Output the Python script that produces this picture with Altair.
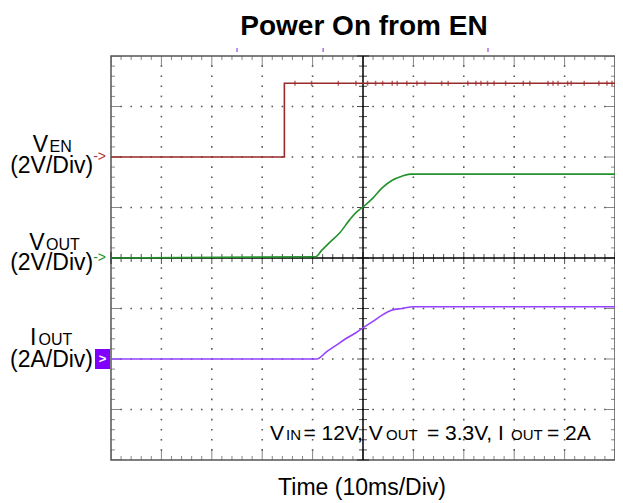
import altair as alt
import numpy as np
import pandas as pd

FONT = "Liberation Sans"

# ---------------- data read from the scope shot ----------------
# time in ms (10 ms / div), values in V or A
ven_t = [0.0, 34.4, 34.4, 100.0]
ven_v = [0.0, 0.0, 2.92, 2.92]

vout_t = [0.0, 40.6, 41.8, 43.4, 45.4, 47.3, 48.6, 49.9, 51.9, 53.8, 55.8, 57.7, 59.4, 100.0]
vout_v = [0.0, 0.05, 0.30, 0.62, 1.00, 1.50, 1.80, 2.00, 2.36, 2.78, 3.08, 3.24, 3.32, 3.32]

iout_t = [0.0, 40.8, 42.8, 44.7, 46.7, 48.6, 49.9, 51.9, 53.8, 55.8, 57.7, 60.0, 100.0]
iout_a = [0.0, 0.0, 0.29, 0.55, 0.82, 1.04, 1.22, 1.48, 1.74, 1.94, 2.00, 2.07, 2.07]

# small glitches visible on the EN high level (ms)
ven_glitch_t = [36.5, 39.8, 45.1, 48.6, 50.9, 52.5, 53.9, 55.8, 56.8, 58.7, 60.7,
                62.3, 65.6, 66.9, 70.8, 72.4, 73.4, 74.7, 76.0, 78.3, 81.8, 83.1,
                86.7, 87.7, 88.7, 90.6, 91.3, 93.9, 96.8, 98.4, 99.4]
# cursor markers above the graticule (ms)
cursor_t = [25.0, 42.1, 74.8]

channel_names = ["VEN", "VOUT", "IOUT"]
channel_ground_div = [6, 4, 2]
channel_units_per_div = [2.0, 2.0, 2.0]
channel_colors = ["#9b2a2a", "#23922b", "#9442ff"]

# ---------------- frames ----------------
def trace_frame(name, ts, vs, g, u):
    return pd.DataFrame({"ch": name, "i": list(range(len(ts))), "t": ts, "val": vs,
                         "div": [g + v / u for v in vs]})


ven_df = trace_frame(channel_names[0], ven_t, ven_v, channel_ground_div[0], channel_units_per_div[0])
vout_df = trace_frame(channel_names[1], vout_t, vout_v, channel_ground_div[1], channel_units_per_div[1])
iout_df = trace_frame(channel_names[2], iout_t, iout_a, channel_ground_div[2], channel_units_per_div[2])

ven_level = channel_ground_div[0] + ven_v[-1] / channel_units_per_div[0]
glitch_df = pd.DataFrame({"t": ven_glitch_t, "div": [ven_level] * len(ven_glitch_t)})
cursor_df = pd.DataFrame({"t": cursor_t})

# graticule
minor_x = [round(float(v), 2) for v in np.arange(0, 100.001, 2)]
minor_y = [round(float(v), 2) for v in np.arange(0, 8.0001, 0.2)]
major_x = list(range(0, 101, 10))
major_y = list(range(0, 9))

dots = []
for gx in major_x[1:-1]:
    if gx == 50:
        continue
    for gy in minor_y[1:-1]:
        dots.append({"gx": gx, "gy": gy})
for gy in major_y[1:-1]:
    if gy == 4:
        continue
    for gx in minor_x[1:-1]:
        dots.append({"gx": gx, "gy": gy})
dots_df = pd.DataFrame(dots)

edge_v = []  # ticks on top / bottom edges
for gx in minor_x:
    ln = 20 if gx % 10 == 0 else 8
    for gy in (0, 8):
        edge_v.append({"gx": gx, "gy": gy, "len": ln})
edge_v_df = pd.DataFrame(edge_v)

edge_h = []  # ticks on left / right edges
for gy in minor_y:
    ln = 20 if abs(gy - round(gy)) < 1e-6 else 8
    for gx in (0, 100):
        edge_h.append({"gx": gx, "gy": gy, "len": ln})
edge_h_df = pd.DataFrame(edge_h)

cross_v_df = pd.DataFrame({"gx": minor_x, "gy": [4] * len(minor_x),
                           "len": [12 if gx % 10 == 0 else 8 for gx in minor_x]})
cross_h_df = pd.DataFrame({"gx": [50] * len(minor_y), "gy": minor_y,
                           "len": [12 if abs(gy - round(gy)) < 1e-6 else 8 for gy in minor_y]})

xs = alt.Scale(domain=[0, 100], nice=False, zero=False)
ys = alt.Scale(domain=[0, 8], nice=False, zero=False)


def X(f):
    return alt.X(f, scale=xs, axis=None)


def Y(f):
    return alt.Y(f, scale=ys, axis=None)


GRID = "#555555"

dots_layer = alt.Chart(dots_df).mark_square(size=2.5, color="#5a5a5a", opacity=1).encode(
    x=X("gx:Q"), y=Y("gy:Q"))

edge_v_layer = alt.Chart(edge_v_df).mark_tick(orient="vertical", thickness=1, clip=True, color=GRID).encode(
    x=X("gx:Q"), y=Y("gy:Q"), size=alt.Size("len:Q", scale=None, legend=None))
edge_h_layer = alt.Chart(edge_h_df).mark_tick(orient="horizontal", thickness=1, clip=True, color=GRID).encode(
    x=X("gx:Q"), y=Y("gy:Q"), size=alt.Size("len:Q", scale=None, legend=None))

cross_rule_h = alt.Chart(pd.DataFrame({"gy": [4]})).mark_rule(color="black", strokeWidth=1.5).encode(
    y=Y("gy:Q"))
cross_rule_v = alt.Chart(pd.DataFrame({"gx": [50]})).mark_rule(color="black", strokeWidth=1.5).encode(
    x=X("gx:Q"))
cross_v_layer = alt.Chart(cross_v_df).mark_tick(orient="vertical", thickness=1, color="black").encode(
    x=X("gx:Q"), y=Y("gy:Q"), size=alt.Size("len:Q", scale=None, legend=None))
cross_h_layer = alt.Chart(cross_h_df).mark_tick(orient="horizontal", thickness=1, color="black").encode(
    x=X("gx:Q"), y=Y("gy:Q"), size=alt.Size("len:Q", scale=None, legend=None))


def trace_layer(df, color, interp):
    return alt.Chart(df).mark_line(strokeWidth=1.6, clip=True, color=color, interpolate=interp).encode(
        x=X("t:Q"), y=Y("div:Q"), order=alt.Order("i:Q"))


ven_layer = trace_layer(ven_df, channel_colors[0], "linear")
vout_layer = trace_layer(vout_df, channel_colors[1], "monotone")
iout_layer = trace_layer(iout_df, channel_colors[2], "monotone")

glitch_layer = alt.Chart(glitch_df).mark_tick(orient="vertical", size=5, thickness=1.5,
                                              color=channel_colors[0]).encode(
    x=X("t:Q"), y=Y("div:Q"))

cursor_layer = alt.Chart(cursor_df).mark_tick(orient="vertical", size=4, thickness=1.5,
                                              color="#8a2be2").encode(
    x=X("t:Q"), y=alt.value(-6))

one = pd.DataFrame({"k": [0]})


def txt(text, x, y=None, level=None, dy=0, size=23, align="left", color="black",
        weight="normal", baseline="alphabetic"):
    if level is not None:
        data = pd.DataFrame({"lvl": [level]})
        yenc = Y("lvl:Q")
    else:
        data = one
        yenc = alt.value(y)
    return alt.Chart(data).mark_text(text=text, fontSize=size, font=FONT, align=align,
                                     baseline=baseline, dy=dy, color=color,
                                     fontWeight=weight).encode(x=alt.value(x), y=yenc)


texts = [
    # title and x label
    txt("Power On from EN", 253, y=-21, size=28, align="center", weight="bold"),
    txt("Time  (10ms/Div)", 251, y=439, size=23, align="center"),
    # VEN
    txt("V", -63, level=6, dy=-5.3, align="right"),
    txt("EN", -61.5, level=6, dy=-5, size=16),
    txt("(2V/Div)", -59.3, level=6, dy=15.5, align="center"),
    txt("->", -5, level=6, dy=0, size=14, align="right", baseline="middle", color="#b03a3a"),
    # VOUT
    txt("V", -66.5, level=4, dy=-8, align="right"),
    txt("OUT", -65, level=4, dy=-8, size=16),
    txt("(2V/Div)", -59.3, level=4, dy=12, align="center"),
    txt("->", -5, level=4, dy=0, size=14, align="right", baseline="middle", color="#23922b"),
    # IOUT
    txt("I", -81, level=2, dy=-14),
    txt("OUT", -72.5, level=2, dy=-14, size=16),
    txt("(2A/Div)", -59.5, level=2, dy=8, align="center"),
    # conditions annotation
    txt("V", 159, y=384, size=21),
    txt("IN", 175, y=384, size=15),
    txt("= 12V, V", 192.5, y=384, size=21),
    txt("OUT", 275, y=384, size=15),
    txt("= 3.3V, I", 316, y=384, size=21),
    txt("OUT", 400, y=384, size=15),
    txt("= 2A", 436, y=384, size=21),
]

iout_box = alt.Chart(pd.DataFrame({"lvl": [2]})).mark_tick(
    orient="vertical", size=20, thickness=15, color="#8000ff", opacity=1).encode(
    x=alt.value(-8.5), y=Y("lvl:Q"))
iout_arrow = txt(">", -8.5, level=2, dy=0, size=13, align="center", baseline="middle",
                 color="white", weight="bold")

chart = alt.layer(
    dots_layer, edge_v_layer, edge_h_layer, cross_rule_h, cross_rule_v,
    cross_v_layer, cross_h_layer, ven_layer, vout_layer, iout_layer, glitch_layer,
    cursor_layer, iout_box, iout_arrow, *texts
).properties(
    width=504, height=404,
    autosize=alt.AutoSizeParams(type="none"),
    padding={"left": 103, "top": 48, "right": 0, "bottom": 42},
).configure_view(
    stroke=GRID, strokeWidth=1.5
)

chart.save("out.html", embed_options={"renderer": "svg", "actions": False})
